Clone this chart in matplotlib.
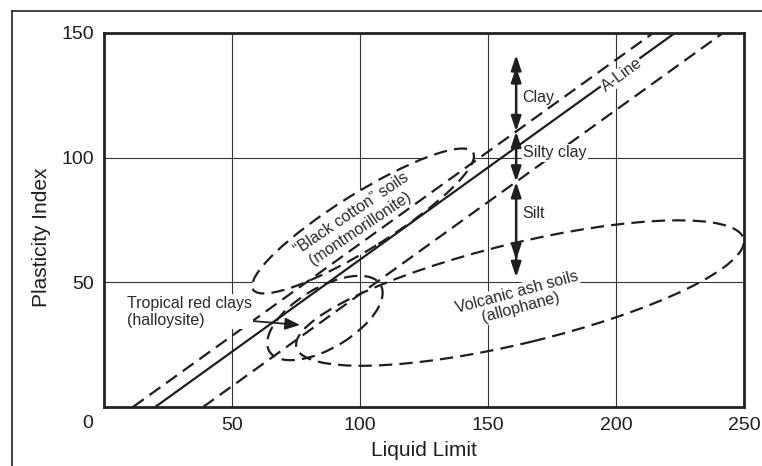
import matplotlib
matplotlib.use("Agg")
import matplotlib.pyplot as plt
from matplotlib.patches import Ellipse
from matplotlib.lines import Line2D

plt.rcParams['font.family'] = ['Liberation Sans', 'DejaVu Sans']

# boundary lines: liquid limit where each line meets PI = 0 and PI = 150
line_pi = [0, 150]
a_line_ll = [20.0, 223.0]
upper_ll = [11.3, 214.5]
lower_ll = [38.7, 241.8]

# soil zones (ellipses): centre LL, centre PI, width, height, angle
zone_names = ['black cotton', 'tropical red clays', 'volcanic ash']
zone_ll = [101.2, 86.3, 162.5]
zone_pi = [74.6, 35.7, 45.7]
zone_w = [102, 51, 180]
zone_h = [22, 24, 40]
zone_angle = [32.7, 32, 14]
zone_filled = [True, False, False]

# classification arrows at LL = 161
arrow_ll = 161
clay_pi = [110.5, 141.2]
clay_extra_head = 136.4
silty_clay_pi = [90.3, 110.5]
silt_pi = [52.0, 90.3]
silt_extra_head = 59.0

ink = '#1e1e1e'
dash = (0, (6, 3.2))

fig = plt.figure(figsize=(7.62, 4.66), dpi=100)
ax = fig.add_axes([104 / 762, 59 / 466, 640 / 762, 374 / 466])
ax.set_xlim(0, 250)
ax.set_ylim(0, 150)
ax.set_xticks([50, 100, 150, 200, 250])
ax.set_yticks([50, 100, 150])
ax.tick_params(length=0, pad=7, labelsize=14, colors=ink)
ax.grid(True, color='#333333', lw=0.8, zorder=0)
ax.set_axisbelow(True)
for s in ax.spines.values():
    s.set_linewidth(2.0)
    s.set_color('#222222')
    s.set_zorder(6)
ax.text(-6.3, -6.5, '0', fontsize=14, color=ink, ha='center', va='center', clip_on=False)

ax.set_xlabel('Liquid Limit', fontsize=15, color=ink)
ax.set_ylabel('Plasticity Index', fontsize=15, color=ink)
ax.xaxis.set_label_coords(0.5, -0.092)
ax.yaxis.set_label_coords(-0.083, 0.455)

# zones: fill first (white) then dashed outline
for ll, pi, w, h, ang, filled in zip(zone_ll, zone_pi, zone_w, zone_h, zone_angle, zone_filled):
    if filled:
        ax.add_patch(Ellipse((ll, pi), w, h, angle=ang, facecolor='white', edgecolor='none', zorder=1))
    ax.add_patch(Ellipse((ll, pi), w, h, angle=ang, facecolor='none', edgecolor=ink,
                         lw=1.6, linestyle=dash, zorder=3))

ax.plot(upper_ll, line_pi, color=ink, lw=1.6, linestyle=dash, zorder=3)
ax.plot(a_line_ll, line_pi, color=ink, lw=1.6, zorder=3)
ax.plot(lower_ll, line_pi, color=ink, lw=1.6, linestyle=dash, zorder=3)

# arrows
head = dict(arrowstyle='<|-|>,head_length=0.45,head_width=0.15', color=ink, lw=1.8,
            shrinkA=0, shrinkB=0, mutation_scale=20)
for lo, hi in [clay_pi, silty_clay_pi, silt_pi]:
    ax.annotate('', xy=(arrow_ll, hi), xytext=(arrow_ll, lo), arrowprops=head, zorder=4)
one = dict(head, arrowstyle='-|>,head_length=0.45,head_width=0.15')
ax.annotate('', xy=(arrow_ll, clay_extra_head), xytext=(arrow_ll, clay_extra_head - 3),
            arrowprops=one, zorder=4)
ax.annotate('', xy=(arrow_ll, silt_extra_head), xytext=(arrow_ll, silt_extra_head + 3),
            arrowprops=one, zorder=4)

txt = dict(fontsize=11.5, color='#2a2a2a', zorder=5)
wbox = dict(facecolor='white', edgecolor='none', pad=1.0)
ax.text(163.5, 124.3, 'Clay', ha='left', va='center', **txt)
ax.text(163.7, 101.9, 'Silty clay', ha='left', va='center', bbox=wbox, **txt)
ax.text(163.5, 77.8, 'Silt', ha='left', va='center', **txt)
ax.text(202.3, 133.2, 'A-Line', ha='center', va='center', rotation=36,
        rotation_mode='anchor', bbox=dict(facecolor='white', edgecolor='none', pad=0.5), **txt)
ax.text(98.4, 74.6, '\u201cBlack cotton\u201d soils\n(montmorillonite)', ha='center', va='center',
        rotation=34, rotation_mode='anchor', multialignment='center', linespacing=1.15,
        bbox=dict(facecolor='white', edgecolor='none', pad=0.5), **txt)
ax.text(162.1, 42.9, 'Volcanic ash soils\n(allophane)', ha='center', va='center',
        rotation=15, rotation_mode='anchor', multialignment='center', linespacing=1.1,
        bbox=dict(facecolor='white', edgecolor='none', pad=0.5), **txt)
ax.text(9.0, 38.2, 'Tropical red clays\n(halloysite)', ha='left', va='center',
        multialignment='left', linespacing=1.2, bbox=wbox, **txt)
ax.annotate('', xy=(76.6, 32.9), xytext=(53.0, 34.9),
            arrowprops=dict(arrowstyle='-|>,head_length=0.5,head_width=0.2', color=ink,
                            lw=1.3, shrinkA=0, shrinkB=0, mutation_scale=18), zorder=4)

# page frame lines
fig.add_artist(Line2D([12 / 762, 1], [1 - 11 / 466, 1 - 11 / 466], color='#222222', lw=1.2))
fig.add_artist(Line2D([12 / 762, 12 / 762], [0, 1 - 11 / 466], color='#222222', lw=1.2))

fig.savefig('out.png', dpi=100)
